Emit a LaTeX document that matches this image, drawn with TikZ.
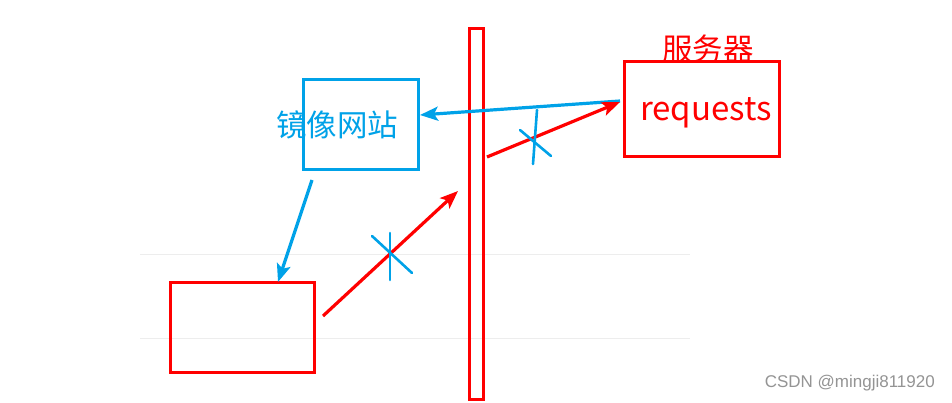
\documentclass[tikz,border=0pt]{standalone}
\usepackage{fontspec}
\newfontfamily\cjk{Noto Sans CJK SC}
\usetikzlibrary{arrows.meta}
\definecolor{myblue}{HTML}{00A2E8}
\definecolor{myred}{HTML}{FF0000}
\tikzset{
  redbox/.style={draw=myred, line width=2.5pt, fill=none, inner sep=0pt},
  bluebox/.style={draw=myblue, line width=2.5pt, inner sep=0pt},
  redarrow/.style={draw=myred, line width=3.2pt, -{Stealth[length=18pt,width=14pt,inset=4pt]}},
  bluearrow/.style={draw=myblue, line width=3.2pt, -{Stealth[length=18pt,width=14pt,inset=4pt]}},
  xmark/.style={draw=myblue, line width=2.6pt, line cap=round},
  grid line/.style={draw=black!7, line width=1pt},
  lbl/.style={font=\cjk\fontsize{30.5}{33}\selectfont, inner sep=0pt}
}
\begin{document}
\begin{tikzpicture}[x=1pt,y=-1pt]
\useasboundingbox[fill=white] (0,0) rectangle (952,402);
% gray lines
\coordinate (g1a) at (140,254); \coordinate (g1b) at (690,254);
\coordinate (g2a) at (140,338); \coordinate (g2b) at (690,338);
\draw[grid line] (g1a) -- (g1b);
\draw[grid line] (g2a) -- (g2b);
% boxes
\node[bluebox, minimum width=115pt, minimum height=90pt, anchor=north west] (mirror) at (302,78) {};
\node[lbl, text=myblue] (mirrortxt) at (337,125) {镜像网站};
\node[redbox, minimum width=155pt, minimum height=95pt, anchor=north west] (server) at (623,60) {};
\node[lbl, text=myred] (servertxt) at (708,49) {服务器};
\node[font=\cjk\fontsize{33}{36}\selectfont, inner sep=0pt, text=myred] (req) at (706,113) {requests};
\node[redbox, minimum width=14pt, minimum height=371pt, anchor=north west] (wall) at (468,27) {};
\node[redbox, minimum width=144pt, minimum height=90pt, anchor=north west] (client) at (169,281) {};
% arrows
\coordinate (a1s) at (312,180); \coordinate (a1e) at (278,282);
\draw[bluearrow] (a1s) -- (a1e);
\coordinate (a2s) at (323,316); \coordinate (a2e) at (458,191);
\draw[redarrow] (a2s) -- (a2e);
\coordinate (a3s) at (620,101); \coordinate (a3e) at (420,115);
\draw[bluearrow] (a3s) -- (a3e);
\coordinate (a4s) at (487,157); \coordinate (a4e) at (620,102);
\draw[redarrow] (a4s) -- (a4e);
% crosses
\coordinate (x1a) at (390,233); \coordinate (x1b) at (390,280);
\coordinate (x1c) at (372,236); \coordinate (x1d) at (412,273);
\draw[xmark] (x1a) -- (x1b);
\draw[xmark] (x1c) -- (x1d);
\coordinate (x2a) at (537,110); \coordinate (x2b) at (533,164);
\coordinate (x2c) at (520,130); \coordinate (x2d) at (551,156);
\draw[xmark] (x2a) -- (x2b);
\draw[xmark] (x2c) -- (x2d);
% watermark
\node[font={\fontspec{Liberation Sans}\fontsize{17}{19}\selectfont}, text=black!42, anchor=east, inner sep=0pt] (wm) at (935,383) {CSDN @mingji811920};
\end{tikzpicture}
\end{document}
